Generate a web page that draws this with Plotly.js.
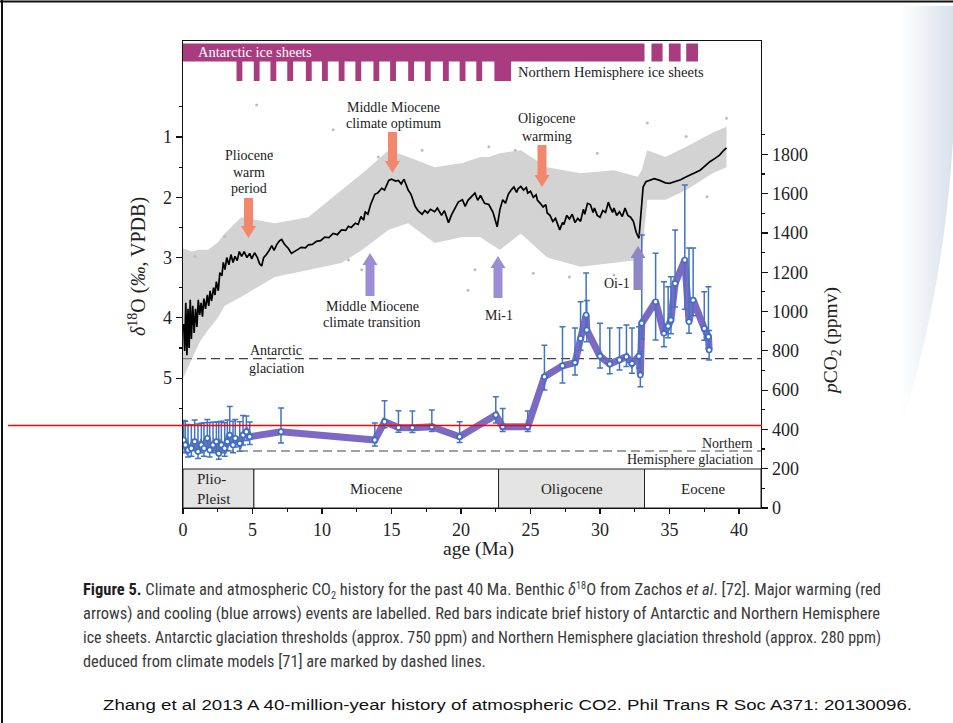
<!DOCTYPE html>
<html><head><meta charset="utf-8">
<script src="https://cdn.plot.ly/plotly-3.0.1.min.js"></script>
<style>
html,body{margin:0;padding:0;background:#fff;}
body{width:953px;height:723px;overflow:hidden;position:relative;}
#deco{position:absolute;left:0;top:0;}
#chart{position:absolute;left:0;top:0;width:953px;height:723px;}
#overlay{position:absolute;left:0;top:0;pointer-events:none;}
.cap{position:absolute;left:83px;white-space:nowrap;font-family:"Liberation Sans Narrow","Roboto Condensed","DejaVu Sans Condensed","Liberation Sans",sans-serif;font-size:16px;line-height:20px;height:20px;color:#3a3a3a;transform-origin:0 50%;}
.cap b{color:#1e1e1e;}
.cap .lo{font-size:10px;position:relative;top:4px;}
.cap .hi{font-size:10px;position:relative;top:-6px;}
.cite{position:absolute;left:103px;top:695px;white-space:nowrap;font-family:"Liberation Sans",Arial,sans-serif;font-size:15.5px;line-height:20px;color:#111;transform-origin:0 50%;}
</style></head><body>
<svg id="deco" width="953" height="723">
  <defs><linearGradient id="sw" x1="0" y1="0" x2="1" y2="0">
    <stop offset="0" stop-color="#ffffff"/><stop offset="1" stop-color="#d9e1eb"/></linearGradient></defs>
  <path d="M901 6 L953 6 L953 140 C946 250 928 340 903 420 Z" fill="url(#sw)"/>
</svg>
<div id="chart"></div>
<div class="cap" id="c1" style="top:580px"><b>Figure 5.</b> Climate and atmospheric CO<span class="lo">2</span> history for the past 40 Ma. Benthic <i>δ</i><span class="hi">18</span>O from Zachos <i>et al</i>. [72]. Major warming (red</div>
<div class="cap" id="c2" style="top:604px">arrows) and cooling (blue arrows) events are labelled. Red bars indicate brief history of Antarctic and Northern Hemisphere</div>
<div class="cap" id="c3" style="top:628px">ice sheets. Antarctic glaciation thresholds (approx. 750 ppm) and Northern Hemisphere glaciation threshold (approx. 280 ppm)</div>
<div class="cap" id="c4" style="top:652px">deduced from climate models [71] are marked by dashed lines.</div>
<div class="cite" id="cite">Zhang et al 2013 A 40-million-year history of atmospheric CO2. Phil Trans R Soc A371: 20130096.</div>
<svg id="overlay" width="953" height="723">
  <line x1="0" y1="1.5" x2="953" y2="1.5" stroke="#111" stroke-width="2"/>
  <line x1="2" y1="0" x2="2" y2="723" stroke="#111" stroke-width="2"/>
  <line x1="8" y1="425.5" x2="762" y2="425.5" stroke="#ff0000" stroke-width="1.5"/>
</svg>
<script>
// ---------------- data ----------------
// benthic d18O smoothed curve (black line)
const d18oAge = [0.05,0.12,0.2,0.28,0.36,0.44,0.52,0.6,0.7,0.8,0.9,1.0,1.1,1.2,1.3,1.4,1.5,1.62,1.75,1.85,1.95,2.05,2.2,2.3,2.4,2.54,2.65,2.8,2.9,3.02,3.15,3.3,3.45,3.6,3.74,3.9,4.05,4.22,4.4,4.6,4.8,4.94,5.15,5.35,5.5,5.66,5.8,6.0,6.2,6.38,6.55,6.75,6.95,7.1,7.3,7.58,7.8,8.06,8.3,8.5,8.8,9.02,9.3,9.6,9.9,10.2,10.5,10.8,11.1,11.4,11.7,11.9,12.1,12.4,12.6,12.8,13.0,13.1,13.3,13.5,13.7,13.8,14.0,14.3,14.5,14.8,15.0,15.3,15.5,15.7,15.9,16.2,16.4,16.7,16.9,17.2,17.4,17.6,17.8,18.1,18.3,18.6,18.8,19.1,19.3,19.6,19.8,20.1,20.3,20.5,20.8,21.0,21.2,21.4,21.7,22.0,22.3,22.6,22.8,23.0,23.2,23.4,23.6,23.8,24.0,24.1,24.3,24.5,24.7,24.8,25.0,25.2,25.4,25.5,25.7,25.9,26.1,26.2,26.4,26.6,26.8,27.1,27.3,27.4,27.6,27.8,28.0,28.2,28.4,28.6,28.8,28.9,29.1,29.3,29.5,29.6,29.8,30.0,30.2,30.4,30.6,30.7,30.9,31.0,31.2,31.4,31.6,31.8,32.0,32.2,32.4,32.6,32.8,32.9,33.0,33.1,33.3,33.6,33.9,34.3,34.7,35.0,35.4,35.8,36.1,36.5,36.9,37.2,37.6,37.9,38.3,38.6,38.9,39.1];
const d18oSmooth = [4.1,4.55,3.75,4.62,3.85,4.5,3.7,4.35,3.8,4.25,3.85,4.15,3.7,3.95,3.75,3.98,3.68,3.85,3.62,3.8,3.55,3.72,3.5,3.62,3.4,3.55,3.25,3.3,3.08,3.2,3.0,3.12,2.95,3.08,2.98,3.05,2.9,2.98,2.9,3.0,2.93,3.02,2.92,3.0,3.1,3.14,3.0,2.95,2.88,2.8,2.88,2.78,2.72,2.7,2.78,2.85,2.93,2.9,2.86,2.83,2.84,2.79,2.78,2.73,2.72,2.66,2.67,2.6,2.62,2.54,2.55,2.48,2.5,2.43,2.45,2.32,2.38,2.24,2.28,2.12,2.02,1.95,1.93,1.85,1.88,1.72,1.7,1.73,1.72,1.78,1.7,1.88,1.95,2.15,2.22,2.28,2.22,2.26,2.2,2.24,2.18,2.3,2.22,2.42,2.3,2.18,2.08,2.04,2.15,2.05,1.98,1.93,2.05,1.97,2.1,2.12,2.25,2.49,2.2,2.04,2.1,1.95,1.88,1.83,1.92,1.86,1.82,1.88,1.84,1.93,1.9,2.0,1.96,2.05,2.1,2.16,2.12,2.26,2.3,2.4,2.35,2.54,2.42,2.45,2.3,2.36,2.28,2.42,2.35,2.4,2.2,2.28,2.1,2.12,2.25,2.18,2.3,2.33,2.22,2.25,2.08,2.15,2.25,2.18,2.3,2.24,2.32,2.18,2.3,2.33,2.4,2.58,2.68,2.4,2.05,1.83,1.74,1.71,1.69,1.72,1.76,1.77,1.74,1.71,1.67,1.63,1.59,1.55,1.47,1.41,1.35,1.3,1.22,1.18];
// extent of the grey cloud of individual d18O measurements
const cloudAge    = [0,0.6,1.2,1.8,2.5,3.0,4.2,6.6,9.0,11.4,12.9,14.8,16.2,18.1,20.1,21.4,22.0,22.8,24.3,26.2,28.6,31.0,32.7,33.0,33.4,34.7,36.2,38.1,39.1];
const cloudTop    = [2.85,2.9,2.87,2.87,2.75,2.6,2.33,2.43,2.33,1.88,1.6,1.22,1.33,1.5,1.43,1.33,1.33,1.27,1.22,1.5,1.6,1.55,1.66,1.55,1.22,1.33,1.16,0.93,0.83];
const cloudBottom = [5.0,4.7,4.4,4.2,4.0,3.8,3.65,3.32,3.2,3.09,2.87,2.54,2.43,2.76,2.66,2.66,2.76,2.87,2.6,3.0,3.15,3.09,3.04,3.0,2.04,2.04,1.88,1.6,1.5];
// scattered single d18O measurements outside the cloud
const outlierAge = [5.3,6.38,10.8,14.05,11.9,12.86,13.6,20.5,21.0,17.2,22.0,3.0,0.86,33.4,39.1,23.9,25.2,27.8,31.0,36.2,29.8,37.7];
const outlierD18o = [0.47,1.27,0.88,1.33,3.04,3.2,3.48,3.54,3.2,1.22,1.16,2.65,2.98,0.77,0.69,1.22,3.26,3.32,3.29,0.99,1.27,1.99];
// atmospheric CO2 reconstruction (ppmv) with uncertainty
const co2Age = [0.05,0.17,0.36,0.6,0.84,1.08,1.32,1.51,1.75,1.92,2.16,2.4,2.57,2.76,3.0,3.19,3.36,3.6,3.76,4.08,4.32,4.56,4.8,7.05,13.8,14.5,15.5,16.5,17.9,19.9,22.5,23.0,24.8,26.0,27.3,28.2,28.6,29.0,29.05,30.0,30.7,31.4,31.9,32.3,32.8,32.9,33.0,34.0,34.6,34.9,35.1,35.4,36.1,36.4,36.7,37.5,37.8,37.85];
const co2Val = [346,321,295,304,338,287,321,304,355,295,321,338,278,321,304,338,371,321,355,329,371,388,363,388,346,439,410,409,414,363,473,414,414,668,724,740,863,982,906,773,733,753,770,736,773,677,940,1050,889,926,957,1143,1262,948,1058,914,872,804];
const co2ErrPlus = [100,120,130,120,110,140,110,130,95,140,115,100,160,120,130,110,145,120,95,110,100,80,75,121,87,107,85,85,85,76,93,93,80,161,199,176,187,214,150,168,183,165,161,180,150,120,450,247,263,200,220,272,382,375,265,187,254,100];
const co2ErrMinus = [45,40,35,40,45,35,40,40,45,35,40,45,30,40,40,45,50,40,45,40,50,45,40,57,30,30,25,25,25,30,40,25,25,68,88,63,60,80,60,61,50,50,50,50,60,60,80,195,68,60,70,120,250,58,80,60,60,51];
// glaciation thresholds (ppmv)
const thresholdNames = ["Antarctic glaciation","Northern Hemisphere glaciation"];
const thresholdCO2 = [760, 290];
// geological epochs (Ma)
const epochNames = ["Plio-<br>Pleist","Miocene","Oligocene","Eocene"];
const epochStart = [0, 5.1, 22.7, 33.2];
const epochEnd   = [5.1, 22.7, 33.2, 41.58];
// ice sheet history bars (Ma)
const antarcticStart = [0, 33.7, 34.95, 36.2];
const antarcticEnd   = [33.2, 34.5, 35.8, 37.05];
const nhIceStart = [3.85,5.09,6.29,7.5,8.84,10.0,11.2,12.4,13.7,14.9,16.2,17.4,18.7,19.9,21.1,22.4];
const nhIceEnd   = [4.27,5.51,6.71,7.92,9.26,10.42,11.62,12.82,14.12,15.32,16.62,17.82,19.12,20.32,21.52,23.6];
// axis ticks
const xTicks = [0,5,10,15,20,25,30,35,40];
const xMinorTicks = [2.5,7.5,12.5,17.5,22.5,27.5,32.5,37.5];
const d18oTicks = [1,2,3,4,5];
const d18oMinorTicks = [0.5,1.5,2.5,3.5,4.5,5.5];
const co2Ticks = [0,200,400,600,800,1000,1200,1400,1600,1800];
const co2MinorTicks = [100,300,500,700,900,1100,1300,1500,1700,1900];

// ---------------- layout helpers ----------------
const SERIF = '"Liberation Serif","Times New Roman",serif';
const L=183, R=761, T=41, B=508;
function px(x){return (x-L)/(R-L);}
function py(y){return (B-y)/(B-T);}
function label(text,x,y,size,extra){
  return Object.assign({xref:'paper',yref:'paper',x:px(x),y:py(y),text:text,showarrow:false,
    xanchor:'center',yanchor:'middle',font:{family:SERIF,size:size,color:'#222'}},extra||{});
}
function arrow(cx,yBase,yTip,color){
  const sw=9,hw=15,hl=12; const s=yTip>yBase?1:-1; const yn=yTip-s*hl;
  const pts=[[cx-sw/2,yBase],[cx+sw/2,yBase],[cx+sw/2,yn],[cx+hw/2,yn],[cx,yTip],[cx-hw/2,yn],[cx-sw/2,yn]];
  const path='M'+pts.map(p=>px(p[0]).toFixed(5)+','+py(p[1]).toFixed(5)).join(' L')+' Z';
  return {type:'path',xref:'paper',yref:'paper',path:path,fillcolor:color,line:{width:0},layer:'above'};
}

// ---------------- traces ----------------
const traces = [
  {x:cloudAge,y:cloudTop,yaxis:'y',mode:'lines',line:{width:0,color:'rgba(0,0,0,0)'},hoverinfo:'skip',showlegend:false},
  {x:cloudAge,y:cloudBottom,yaxis:'y',mode:'lines',fill:'tonexty',fillcolor:'rgba(175,175,175,0.55)',line:{width:0,color:'rgba(0,0,0,0)'},hoverinfo:'skip',showlegend:false},
  {x:outlierAge,y:outlierD18o,yaxis:'y',mode:'markers',marker:{size:3,color:'#bdbdbd'},showlegend:false},
  {x:d18oAge,y:d18oSmooth,yaxis:'y',mode:'lines',line:{color:'#000',width:1.7},showlegend:false},
  {x:co2Age,y:co2Val,yaxis:'y2',mode:'lines',line:{color:'rgba(112,92,190,0.92)',width:7},showlegend:false},
  {x:co2Age,y:co2Val,yaxis:'y2',mode:'markers',
   marker:{size:5,color:'#ffffff',line:{color:'#3d6fc0',width:1.6}},
   error_y:{type:'data',symmetric:false,array:co2ErrPlus,arrayminus:co2ErrMinus,color:'#4274c2',thickness:1.5,width:3},
   showlegend:false}
];

// ---------------- shapes ----------------
const shapes = [];
const EP_TOP = py(469);
epochNames.forEach((n,i)=>{
  shapes.push({type:'rect',xref:'x',yref:'paper',x0:epochStart[i],x1:epochEnd[i],y0:0,y1:EP_TOP,
    fillcolor:(i%2===0)?'#e4e4e4':'#ffffff',line:{color:'#222',width:1},layer:'below'});
});
thresholdCO2.forEach(v=>{
  shapes.push({type:'line',xref:'paper',yref:'y2',x0:0,x1:1,y0:v,y1:v,line:{color:'#444',width:1.2,dash:'9px,5px'},layer:'below'});
});
const ICE='#a83c7e';
antarcticStart.forEach((s,i)=>{
  shapes.push({type:'rect',xref:'x',yref:'paper',x0:s,x1:antarcticEnd[i],y0:py(61.5),y1:py(43.5),fillcolor:ICE,line:{width:0},layer:'above'});
});
nhIceStart.forEach((s,i)=>{
  shapes.push({type:'rect',xref:'x',yref:'paper',x0:s,x1:nhIceEnd[i],y0:py(81),y1:py(61),fillcolor:ICE,line:{width:0},layer:'above'});
});
const RED='#f3876b', BLUE='#9b8ed6';
shapes.push(arrow(248.5,198,238,RED));
shapes.push(arrow(392.5,132,173,RED));
shapes.push(arrow(542,145,187,RED));
shapes.push(arrow(370,296,253,BLUE));
shapes.push(arrow(498,298,256,BLUE));
shapes.push(arrow(638,290,246,'#8f86c4'));

// ---------------- annotations ----------------
const A = 14;
const ann = [
  label('Antarctic ice sheets',196,52.5,14.5,{xanchor:'left',font:{family:SERIF,size:14.5,color:'#ffffff'}}),
  label('Northern Hemisphere ice sheets',516,72.5,14.5,{xanchor:'left'}),
  label('Middle Miocene',393,107.5,A), label('climate optimum',393,123,A),
  label('Pliocene',249,155,A), label('warm',249,172,A), label('period',249,189,A),
  label('Oligocene',546.5,118,A), label('warming',546.5,136,A),
  label('Middle Miocene',372,306,A), label('climate transition',372,322,A),
  label('Mi-1',499,315,A), label('Oi-1',617,283.5,A),
  label('Antarctic',276,350,A), label('glaciation',276,368,A),
  label('Northern',755,443,A,{xanchor:'right'}),
  label('Hemisphere glaciation',755,459.5,A,{xanchor:'right'}),
  label('Plio-<br>Pleist',195,489,15,{xanchor:'left',align:'left'}),
  label('<i>δ</i><sup>18</sup>O (<i>‰</i>, VPDB)',137,267,20,{textangle:-90}),
  label('<i>p</i>CO<sub>2</sub> (ppmv)',832,341,19.5,{textangle:-90}),
  label('age (Ma)',478,549,19.5)
];
epochNames.forEach((n,i)=>{
  if(i===0) return;
  ann.push({xref:'x',yref:'paper',x:(epochStart[i]+epochEnd[i])/2,y:py(489),text:n,showarrow:false,
    xanchor:'center',yanchor:'middle',font:{family:SERIF,size:15,color:'#222'}});
});

const axLine = {showline:true,linecolor:'#111',linewidth:1.3,zeroline:false,showgrid:false,
  ticks:'outside',ticklen:6,tickwidth:1.2,tickcolor:'#111',tickfont:{family:SERIF,size:18,color:'#222'}};

const layout = {
  width:953,height:723,
  margin:{l:L,r:953-R,t:T,b:723-B,pad:0},
  paper_bgcolor:'rgba(0,0,0,0)',plot_bgcolor:'rgba(0,0,0,0)',
  showlegend:false,
  xaxis:Object.assign({},axLine,{range:[0,41.58],mirror:true,tickmode:'array',tickvals:xTicks,ticklen:5,
    minor:{tickmode:'array',tickvals:xMinorTicks,ticks:'outside',ticklen:3,tickcolor:'#111'}}),
  yaxis:Object.assign({},axLine,{range:[7.153,-0.592],side:'left',tickmode:'array',tickvals:d18oTicks,
    minor:{tickmode:'array',tickvals:d18oMinorTicks,ticks:'outside',ticklen:3,tickcolor:'#111'}}),
  yaxis2:Object.assign({},axLine,{range:[0,2377],side:'right',overlaying:'y',anchor:'x',tickmode:'array',tickvals:co2Ticks,
    minor:{tickmode:'array',tickvals:co2MinorTicks,ticks:'outside',ticklen:3,tickcolor:'#111'}}),
  shapes:shapes,
  annotations:ann
};

Plotly.newPlot('chart',traces,layout,{staticPlot:true,displayModeBar:false});

// fit caption lines to the widths they occupy in the figure
function fitAll(){
  const targets={c1:798,c2:797,c3:798};
  let sum=0,n=0;
  Object.keys(targets).forEach(id=>{
    const el=document.getElementById(id); el.style.transform='none';
    const w=el.getBoundingClientRect().width; const s=targets[id]/w;
    el.style.transform='scaleX('+s+')'; sum+=s; n++;
  });
  const c4=document.getElementById('c4'); c4.style.transform='scaleX('+(sum/n)+')';
  const ci=document.getElementById('cite'); ci.style.transform='none';
  const wc=ci.getBoundingClientRect().width; ci.style.transform='scaleX('+(809/wc)+')';
}
fitAll();
if(document.fonts&&document.fonts.ready){document.fonts.ready.then(fitAll);}
</script>
</body></html>
